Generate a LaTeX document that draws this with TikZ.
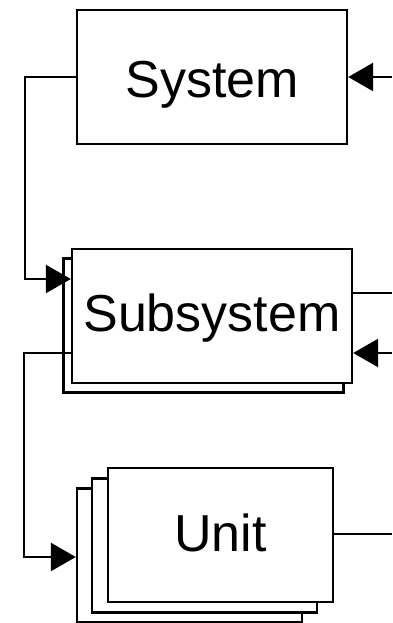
\documentclass[tikz,border=0pt]{standalone}
\usepackage{fontspec}
\setmainfont{Liberation Sans}
\usetikzlibrary{arrows.meta}
\begin{document}
\begin{tikzpicture}[x=1pt,y=-1pt,
  box/.style={draw=black,fill=white,line width=2.3pt,rectangle,inner sep=0pt,text depth=0pt,font=\fontsize{52}{60}\selectfont},
  conn/.style={line width=2.3pt},
  arr/.style={line width=2.3pt,-{Triangle[length=25pt,width=28pt]}}]
\useasboundingbox (0,0) rectangle (392,623);
% System
\node[box,minimum width=270pt,minimum height=134pt,text height=42pt] (sys) at (212,77) {System};
% Subsystem stack
\node[box,minimum width=280pt,minimum height=134pt] (subB) at (203.5,325.5) {};
\node[box,minimum width=280pt,minimum height=134pt,text height=31pt] (sub) at (212,316) {Subsystem};
% Unit stack
\node[box,minimum width=225pt,minimum height=134pt] (unitC) at (189.5,555.5) {};
\node[box,minimum width=225pt,minimum height=134pt] (unitB) at (204.5,545.5) {};
\node[box,minimum width=225pt,minimum height=134pt,text height=33pt] (unit) at (220.5,535) {Unit};
% free ends
\coordinate (c1) at (25,77);
\coordinate (c2) at (25,279);
\coordinate (c3) at (24,353);
\coordinate (c4) at (24,557);
\coordinate (r1) at (392,77);
\coordinate (r2) at (392,293);
\coordinate (r3) at (392,353);
\coordinate (r4) at (392,534);
% connectors
\draw[arr] (sys.west) -- (c1) -- (c2) -- (sub.west |- c2);
\draw[arr] (r1) -- (sys.east);
\draw[conn] (sub.east |- r2) -- (r2);
\draw[arr] (r3) -- (sub.east |- r3);
\draw[arr] (sub.west |- c3) -- (c3) -- (c4) -- (unitC.west |- c4);
\draw[conn] (unit.east |- r4) -- (r4);
\end{tikzpicture}
\end{document}
